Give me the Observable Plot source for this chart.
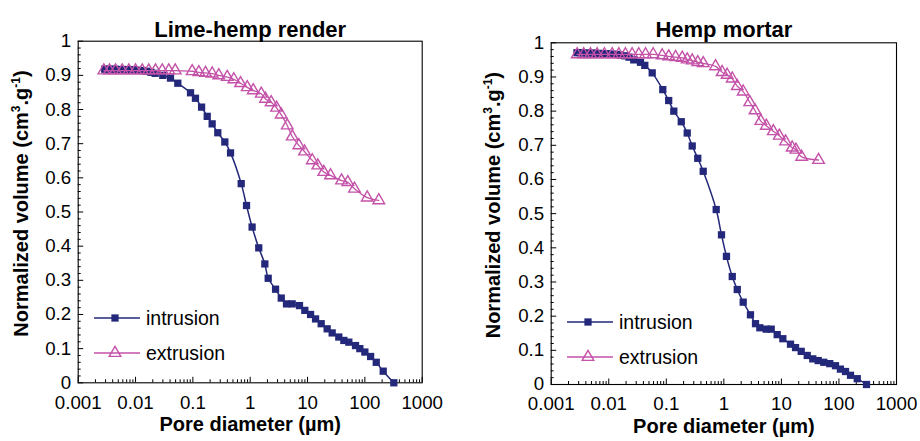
<!DOCTYPE html>
<html><head><meta charset="utf-8">
<script src="https://cdn.jsdelivr.net/npm/d3@7"></script>
<script src="https://cdn.jsdelivr.net/npm/@observablehq/plot@0.6"></script>
<style>
body{margin:0;background:#fff;}
#wrap{display:flex;width:920px;height:441px;overflow:hidden;}
#wrap svg{display:block;}
</style></head><body><div id="wrap"></div>
<script>
const panelTitles = ["Lime-hemp render", "Hemp mortar"];
const seriesNames = ["intrusion", "extrusion"];
const xTitle = "Pore diameter (µm)";
const xTicks = [0.001, 0.01, 0.1, 1, 10, 100, 1000];
const xTickLabels = ["0.001", "0.01", "0.1", "1", "10", "100", "1000"];
const yTicks = [0, 0.1, 0.2, 0.3, 0.4, 0.5, 0.6, 0.7, 0.8, 0.9, 1];
const yTickLabels = ["0", "0.1", "0.2", "0.3", "0.4", "0.5", "0.6", "0.7", "0.8", "0.9", "1"];

// Lime-hemp render
const limeIntrusionD = [0.0029,0.0033,0.0038,0.0044,0.0051,0.0059,0.0069,0.008,0.0094,0.011,0.013,0.0155,0.0185,0.022,0.0299,0.0407,0.0546,0.091,0.111,0.142,0.178,0.217,0.272,0.361,0.454,0.697,0.863,1.08,1.41,1.80,2.06,2.77,3.48,4.30,5.40,7.24,8.97,11.3,13.8,17.3,22.0,26.9,35.1,43.0,52.5,68.7,81.7,100,126,158,209,320];
const limeIntrusionV = [0.918,0.918,0.918,0.918,0.917,0.917,0.917,0.916,0.916,0.915,0.914,0.912,0.909,0.906,0.900,0.892,0.877,0.849,0.833,0.807,0.780,0.758,0.732,0.705,0.673,0.583,0.519,0.456,0.395,0.348,0.306,0.274,0.248,0.231,0.231,0.226,0.212,0.200,0.187,0.173,0.158,0.146,0.134,0.124,0.119,0.109,0.100,0.090,0.077,0.060,0.034,0];
const limeExtrusionD = [0.0028,0.00352,0.00448,0.00585,0.00764,0.01,0.0131,0.017,0.0223,0.0292,0.038,0.0492,0.0973,0.127,0.166,0.217,0.283,0.397,0.518,0.678,0.887,1.13,1.56,1.85,2.32,2.88,3.47,4.43,5.41,7.05,8.85,12.1,15.1,19.2,25.2,39.2,50.4,65.9,110,175];
const limeExtrusionV = [0.914,0.914,0.914,0.914,0.914,0.914,0.914,0.914,0.914,0.914,0.914,0.914,0.912,0.909,0.907,0.905,0.900,0.895,0.888,0.877,0.865,0.856,0.846,0.831,0.821,0.805,0.785,0.753,0.721,0.695,0.677,0.651,0.636,0.617,0.607,0.592,0.587,0.568,0.542,0.534];

// Hemp mortar
const mortarIntrusionD = [0.0028,0.0032,0.0037,0.0043,0.005,0.0058,0.0068,0.008,0.0095,0.0113,0.0135,0.016,0.019,0.0225,0.0272,0.0356,0.0423,0.0569,0.0869,0.110,0.135,0.182,0.231,0.282,0.352,0.438,0.736,0.91,1.11,1.40,1.71,2.17,2.90,3.55,4.22,5.45,6.65,8.45,10.6,14.4,17.6,22.1,28.1,35.1,43.6,54.5,69.3,87.1,106,130,159,208,301];
const mortarIntrusionV = [0.971,0.971,0.970,0.970,0.970,0.969,0.969,0.968,0.968,0.967,0.966,0.964,0.962,0.958,0.950,0.943,0.934,0.912,0.863,0.831,0.800,0.769,0.736,0.698,0.662,0.624,0.512,0.438,0.375,0.316,0.278,0.241,0.204,0.178,0.166,0.162,0.162,0.146,0.134,0.118,0.108,0.097,0.085,0.075,0.070,0.065,0.061,0.055,0.045,0.038,0.027,0.017,0];
const mortarExtrusionD = [0.00283,0.00368,0.00482,0.00629,0.00843,0.0115,0.015,0.0195,0.0255,0.0333,0.0436,0.0592,0.0849,0.110,0.145,0.189,0.231,0.282,0.352,0.438,0.716,0.935,1.14,1.40,1.71,2.17,2.82,3.48,4.39,5.47,7.23,9.2,11.8,15.4,17.9,22.5,44.2];
const mortarExtrusionV = [0.966,0.966,0.966,0.966,0.966,0.966,0.966,0.966,0.966,0.966,0.966,0.966,0.963,0.960,0.958,0.956,0.951,0.948,0.943,0.940,0.931,0.914,0.906,0.895,0.873,0.857,0.826,0.802,0.771,0.757,0.741,0.728,0.711,0.693,0.687,0.666,0.657];

const navy = "#23287a";
const pink = "#c452a8";
const FONT = "'Liberation Sans', Arial, Helvetica, sans-serif";

const minorX = xTicks.slice(0, -1).flatMap(t => [2,3,4,5,6,7,8,9].map(k => +(t * k).toPrecision(3)));
const minorY = d3.range(1, 50).filter(i => i % 5 !== 0).map(i => i / 50);

function panel(cfg) {
  const intr = cfg.intrD.map((d, i) => ({d, v: cfg.intrV[i]}));
  const extr = cfg.extrD.map((d, i) => ({d, v: cfg.extrV[i]}));
  const overlay = (index, scales, values, dims) => {
    const g = d3.create("svg:g").attr("font-family", FONT);
    const fy = dims.marginTop + (dims.height - dims.marginTop - dims.marginBottom) / 2 - 8;
    const t = g.append("text")
      .attr("transform", `translate(${cfg.ylabX},${fy}) rotate(-90)`)
      .attr("text-anchor", "middle").attr("font-size", 20).attr("font-weight", "bold")
      .attr("dy", "0.35em").attr("fill", "#000");
    t.append("tspan").text("Normalized volume (cm");
    t.append("tspan").attr("dy", -8).attr("font-size", 12).text("3");
    t.append("tspan").attr("dy", 8).text(".g");
    t.append("tspan").attr("dy", -8).attr("font-size", 12).text("-1");
    t.append("tspan").attr("dy", 8).text(")");
    // legend
    const lx = dims.marginLeft + 16.3;
    const ly = dims.height - dims.marginBottom - cfg.legUp;
    const rows = [
      {name: seriesNames[0], color: navy, sym: d3.symbolSquare, size: Math.PI * 4.1 * 4.1, fill: navy, stroke: "none", lw: 1.5},
      {name: seriesNames[1], color: pink, sym: d3.symbolTriangle, size: Math.PI * 4.3 * 4.3, fill: "none", stroke: pink, lw: 1.3}
    ];
    rows.forEach((r, i) => {
      const y = ly + i * 35;
      g.append("line").attr("x1", lx).attr("x2", lx + 46).attr("y1", y).attr("y2", y)
        .attr("stroke", r.color).attr("stroke-width", r.lw);
      g.append("path").attr("d", d3.symbol(r.sym, r.size)())
        .attr("transform", `translate(${lx + 21},${y})`)
        .attr("fill", r.fill).attr("stroke", r.stroke).attr("stroke-width", 1.4);
      g.append("text").attr("x", lx + 52).attr("y", y).attr("dy", "0.35em")
        .attr("text-anchor", "start")
        .attr("font-size", 19.5).attr("fill", "#000").text(r.name);
    });
    return g.node();
  };
  return Plot.plot({
    width: 460, height: 441,
    marginLeft: cfg.ml, marginRight: cfg.mr, marginTop: cfg.mt, marginBottom: cfg.mb,
    style: {fontFamily: FONT, fontSize: "19px", color: "#000", background: "#fff", overflow: "visible"},
    x: {type: "log", domain: [0.001, 1000], label: null},
    y: {domain: [0, 1], label: null},
    marks: [
      Plot.axisX(minorX, {tickSize: -3, fill: "none", label: null, strokeWidth: 1}),
      Plot.axisX(xTicks, {tickSize: -5.5, fill: "none", label: null, strokeWidth: 1}),
      Plot.axisX(xTicks, {tickSize: 0, tickPadding: cfg.xPad, tickFormat: d => xTickLabels[xTicks.indexOf(d)], label: null, fontSize: 18.7}),
      Plot.axisY(minorY, {tickSize: -3, fill: "none", label: null, strokeWidth: 1}),
      Plot.axisY(yTicks, {tickSize: -5.5, fill: "none", label: null, strokeWidth: 1}),
      Plot.axisY(yTicks, {tickSize: 0, tickPadding: 7, tickFormat: d => yTickLabels[yTicks.indexOf(d)], label: null, fontSize: 18.7}),
      Plot.frame({stroke: "#000", strokeWidth: 1.1}),
      Plot.line(intr, {x: "d", y: "v", stroke: navy, strokeWidth: 1.5, curve: "catmull-rom"}),
      Plot.dot(intr, {x: "d", y: "v", symbol: "square", r: 4.1, fill: navy, stroke: "none"}),
      Plot.line(extr, {x: "d", y: "v", stroke: pink, strokeWidth: 1.3, curve: "catmull-rom"}),
      Plot.dot(extr, {x: "d", y: "v", symbol: "triangle", r: 4.3, fill: "none", stroke: pink, strokeWidth: 1.4}),
      Plot.text([cfg.title], {text: d => d, frameAnchor: "top", dy: 21 - cfg.mt, fontSize: 22, fontWeight: "bold", fill: "#000"}),
      Plot.text([xTitle], {text: d => d, frameAnchor: "bottom", dy: cfg.xTitleY - (441 - cfg.mb), fontSize: 20, fontWeight: "bold", fill: "#000"}),
      overlay
    ]
  });
}

const wrap = document.getElementById("wrap");
wrap.appendChild(panel({title: panelTitles[0], intrD: limeIntrusionD, intrV: limeIntrusionV, extrD: limeExtrusionD, extrV: limeExtrusionV,
  ml: 77.7, mr: 38.3, mt: 40.7, mb: 58.7, ylabX: 21, legUp: 64.3, xPad: 13, xTitleY: 430.5}));
wrap.appendChild(panel({title: panelTitles[1], intrD: mortarIntrusionD, intrV: mortarIntrusionV, extrD: mortarExtrusionD, extrV: mortarExtrusionV,
  ml: 90.7, mr: 24, mt: 42.3, mb: 57, ylabX: 33, legUp: 62, xPad: 12.5, xTitleY: 432}));
</script></body></html>
